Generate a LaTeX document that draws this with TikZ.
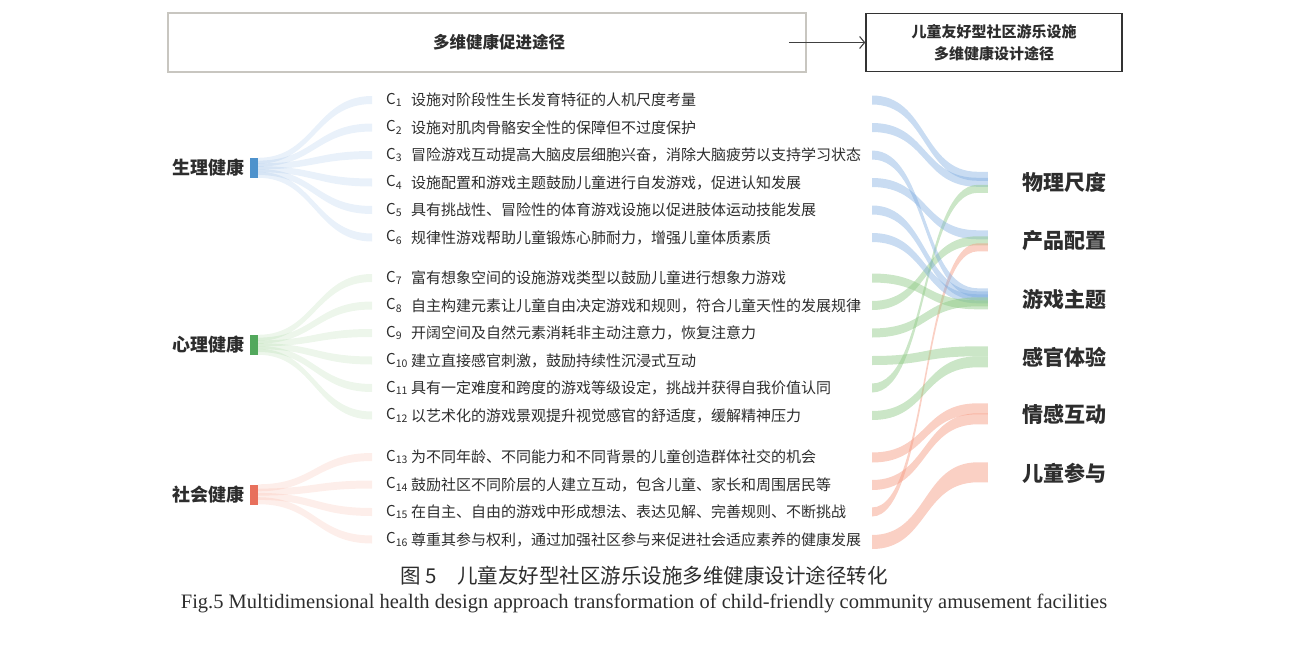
\documentclass[tikz,border=0pt]{standalone}
\usepackage{fontspec}
\setmainfont{Liberation Serif}
\newfontfamily\cjk{Noto Sans CJK SC}
\usetikzlibrary{positioning,arrows.meta}

\definecolor{txtgray}{RGB}{45,45,45}
\definecolor{boxgray}{RGB}{200,198,192}
\definecolor{phyblue}{RGB}{78,146,204}
\definecolor{psygreen}{RGB}{82,168,92}
\definecolor{socred}{RGB}{232,112,92}
\definecolor{fblue}{RGB}{120,168,222}
\definecolor{fgreen}{RGB}{140,200,130}
\definecolor{fred}{RGB}{245,150,125}

% band: from, off, thick, to, off, thick, extension, style
\newcommand{\flowband}[8]{%
  \fill[#8] ([yshift={-(#2)*1pt}]#1) .. controls +(\bnd,0) and +(-\bnd,0) .. ([yshift={-(#5)*1pt}]#4)
    -- ++(#7,0) -- ++(0,#6) -- ++(-#7,0)
    .. controls +(-\bnd,0) and +(\bnd,0) .. ([yshift={-(#2+#3)*1pt}]#1) -- cycle;}
\def\bnd{56}

\tikzset{
  rowtext/.style={anchor=west,inner sep=0pt,text=txtgray,font=\cjk\fontsize{15}{15}\selectfont},
  grouplabel/.style={inner sep=0pt,text=txtgray,font=\cjk\bfseries\fontsize{18}{18}\selectfont},
  tgtlabel/.style={anchor=west,inner sep=0pt,text=txtgray,font=\cjk\bfseries\fontsize{21}{21}\selectfont},
  srcbar/.style={rectangle,inner sep=0pt,minimum width=8pt,minimum height=20pt},
  tgtbar/.style={rectangle,inner sep=0pt,minimum width=10pt,minimum height=21pt},
  fanb/.style={fill=fblue,fill opacity=0.16},
  fang/.style={fill=fgreen,fill opacity=0.16},
  fanr/.style={fill=fred,fill opacity=0.16},
  bandb/.style={fill=fblue,fill opacity=0.4},
  bandg/.style={fill=fgreen,fill opacity=0.45},
  bandr/.style={fill=fred,fill opacity=0.45},
}

\begin{document}
\begin{tikzpicture}[x=1pt,y=-1pt,node distance=5pt]
	\useasboundingbox (0,0) rectangle (1290,645);
	% top boxes
	\node [draw=boxgray,line width=1.6pt,minimum width=638pt,minimum height=59pt] (pb) at (487,42.5) {};
	\node [text=txtgray,font=\cjk\bfseries\fontsize{16.5}{16.5}\selectfont] (pt) at ([xshift=12pt]pb.center) {多维健康促进途径};
	\node [draw=black!80,line width=1.4pt,minimum width=256pt,minimum height=58pt,align=center,text=txtgray,font=\cjk\bfseries\fontsize{15}{22}\selectfont] (db) at (994,42.5) {儿童友好型社区游乐设施\\多维健康设计途径};
	\draw [-{Straight Barb[length=5pt,width=12pt]},line width=1.1pt,black!75] ([xshift=-18pt]pb.east) -- (db.west);

	% rows
	\foreach \i/\y/\t in {
		1/100/设施对阶段性生长发育特征的人机尺度考量,
		2/127.5/设施对肌肉骨骼安全性的保障但不过度保护,
		3/155/冒险游戏互动提高大脑皮层细胞兴奋，消除大脑疲劳以支持学习状态,
		4/182.5/设施配置和游戏主题鼓励儿童进行自发游戏，促进认知发展,
		5/210/具有挑战性、冒险性的体育游戏设施以促进肢体运动技能发展,
		6/237.5/规律性游戏帮助儿童锻炼心肺耐力，增强儿童体质素质,
		7/278/富有想象空间的设施游戏类型以鼓励儿童进行想象力游戏,
		8/305.5/自主构建元素让儿童自由决定游戏和规则，符合儿童天性的发展规律,
		9/333/开阔空间及自然元素消耗非主动注意力，恢复注意力,
		10/360.5/建立直接感官刺激，鼓励持续性沉浸式互动,
		11/388/具有一定难度和跨度的游戏等级设定，挑战并获得自我价值认同,
		12/415.5/以艺术化的游戏景观提升视觉感官的舒适度，缓解精神压力,
		13/457/为不同年龄、不同能力和不同背景的儿童创造群体社交的机会,
		14/484.5/鼓励社区不同阶层的人建立互动，包含儿童、家长和周围居民等,
		15/512/在自主、自由的游戏中形成想法、表达见解、完善规则、不断挑战,
		16/539.5/尊重其参与权利，通过加强社区参与来促进社会适应素养的健康发展}{
		\node [rowtext] (c\i) at (386,\y) {C\textsubscript{\i}};
		\node [rowtext] (t\i) at (411,\y) {\t};
		\coordinate (l\i) at (372,\y-4);
		\coordinate (r\i) at (872,\y-4.5);
	}

	% left groups
	\node [srcbar,fill=phyblue] (sb1) at (254,168) {};
	\node [srcbar,fill=psygreen] (sb2) at (254,345) {};
	\node [srcbar,fill=socred] (sb3) at (254,494.5) {};
	\node [grouplabel,left=of sb1] (g1) {生理健康};
	\node [grouplabel,left=of sb2] (g2) {心理健康};
	\node [grouplabel,left=of sb3] (g3) {社会健康};

	\foreach \i in {1,...,6}
		\flowband{sb1.north east}{(\i-1)*2.8}{6}{l\i}{0}{8}{0}{fanb};
	\foreach \i in {7,...,12}
		\flowband{sb2.north east}{(\i-7)*2.8}{6}{l\i}{0}{8}{0}{fang};
	\foreach \i in {13,...,16}
		\flowband{sb3.north east}{(\i-13)*4.3}{7}{l\i}{0}{8}{0}{fanr};

	% right targets
	\node [tgtbar] (d1) at (983,182.5) {};
	\node [tgtbar] (d2) at (983,241) {};
	\node [tgtbar] (d3) at (983,299) {};
	\node [tgtbar] (d4) at (983,357) {};
	\node [tgtbar] (d5) at (983,414) {};
	\node [tgtbar] (d6) at (983,473) {};
	\node [tgtlabel,right=34pt of d1] {物理尺度};
	\node [tgtlabel,right=34pt of d2] {产品配置};
	\node [tgtlabel,right=34pt of d3] {游戏主题};
	\node [tgtlabel,right=34pt of d4] {感官体验};
	\node [tgtlabel,right=34pt of d5] {情感互动};
	\node [tgtlabel,right=34pt of d6] {儿童参与};

	\foreach \i/\d/\o/\s/\w/\c in {1/d1/0/9/9/bandb, 2/d1/6/9/9/bandb, 11/d1/13/9/8/bandg,
		4/d2/0/9/9/bandb, 8/d2/6/9/9/bandg, 15/d2/13/9/8/bandr,
		3/d3/0/9/9/bandb, 5/d3/3/9/9/bandb, 6/d3/6/9/9/bandb, 9/d3/9/9/9/bandg, 7/d3/12/9/9/bandg,
		10/d4/0/9/10/bandg, 12/d4/10/9/11/bandg,
		13/d5/0/10/11/bandr, 14/d5/10/10/11/bandr,
		16/d6/0/14/20/bandr}
		\flowband{r\i}{0}{\s}{\d.north west}{\o}{\w}{10}{\c};

	% caption
	\node [text=txtgray,font=\cjk\fontsize{20.5}{20.5}\selectfont] (cap) at (644,576) {图 5\quad 儿童友好型社区游乐设施多维健康设计途径转化};
	\node [text=txtgray,font=\fontsize{20.5}{20.5}\selectfont,below=1pt of cap] (capen) {Fig.5 Multidimensional health design approach transformation of child-friendly community amusement facilities};
\end{tikzpicture}
\end{document}
